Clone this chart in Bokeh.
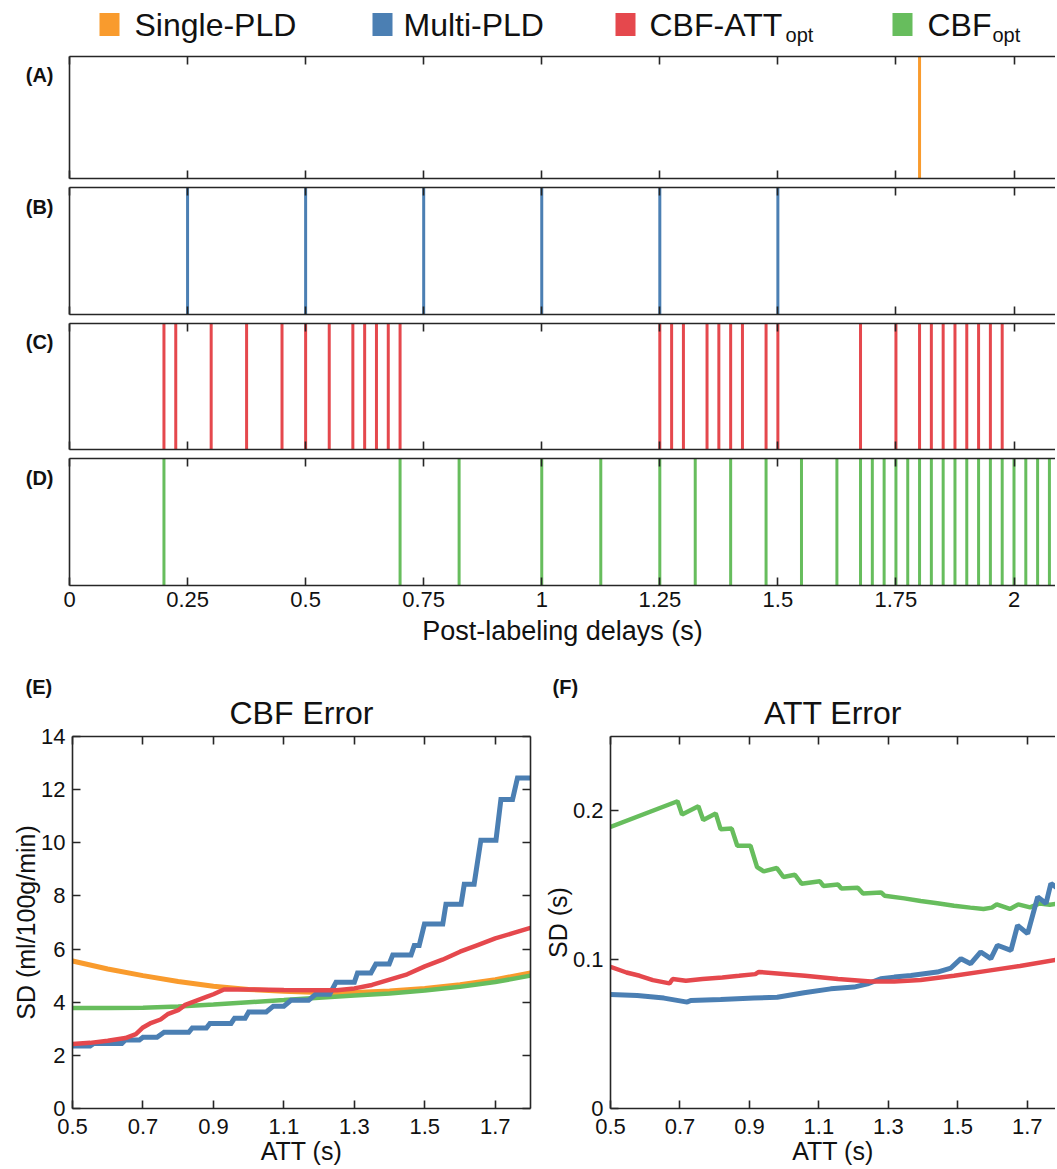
from bokeh.plotting import figure
from bokeh.models import Range1d, FixedTicker, LinearAxis, Title
from bokeh.layouts import column, row
from bokeh.embed import file_html
from bokeh.resources import INLINE
from bokeh.core.properties import value

FONT = "Liberation Sans"
AX = "#262626"
TXT = "#111111"
C_SINGLE = "#F99B2D"
C_MULTI = "#4B7FB3"
C_CBFATT = "#E5484D"
C_CBF = "#67BD5D"

# ---------------- data ----------------
legend_names = ["Single-PLD", "Multi-PLD", "CBF-ATT", "CBF"]
legend_subs = ["", "", "opt", "opt"]

single_pld = [1.8]
multi_pld = [0.25, 0.5, 0.75, 1.0, 1.25, 1.5]
cbf_att_opt_pld = [0.2, 0.225, 0.3, 0.375, 0.45, 0.5, 0.55, 0.6, 0.625, 0.65, 0.675, 0.7,
                   1.25, 1.275, 1.3, 1.35, 1.375, 1.4, 1.425, 1.475, 1.5, 1.675, 1.75,
                   1.8, 1.825, 1.85, 1.875, 1.9, 1.925, 1.95, 1.975]
cbf_opt_pld = [0.2, 0.7, 0.825, 1.0, 1.125, 1.25, 1.325, 1.4, 1.475, 1.55, 1.625, 1.675,
               1.7, 1.725, 1.75, 1.775, 1.8, 1.825, 1.85, 1.875, 1.9, 1.925, 1.95, 1.975,
               2.0, 2.025, 2.05, 2.075]
pld_ticks = [0, 0.25, 0.5, 0.75, 1.0, 1.25, 1.5, 1.75, 2.0]
pld_tick_labels = ["0", "0.25", "0.5", "0.75", "1", "1.25", "1.5", "1.75", "2"]
panel_letters = ["(A)", "(B)", "(C)", "(D)"]

att_ticks = [0.5, 0.7, 0.9, 1.1, 1.3, 1.5, 1.7]
att_tick_labels = ["0.5", "0.7", "0.9", "1.1", "1.3", "1.5", "1.7"]
cbf_sd_ticks = [0, 2, 4, 6, 8, 10, 12, 14]
att_sd_ticks = [0, 0.1, 0.2]
att_sd_tick_labels = ["0", "0.1", "0.2"]

# CBF error (E)
e_single_att = [0.5, 0.6, 0.7, 0.8, 0.9, 1.0, 1.1, 1.2, 1.3, 1.4, 1.5, 1.6, 1.7, 1.8]
e_single_sd = [5.55, 5.25, 5.0, 4.78, 4.6, 4.48, 4.41, 4.37, 4.37, 4.42, 4.52, 4.66, 4.85, 5.1]
e_cbf_att = [0.5, 0.6, 0.7, 0.8, 0.9, 1.0, 1.1, 1.2, 1.3, 1.4, 1.5, 1.6, 1.7, 1.8]
e_cbf_sd = [3.78, 3.78, 3.79, 3.84, 3.91, 4.0, 4.08, 4.17, 4.25, 4.33, 4.44, 4.58, 4.76, 5.0]
e_cbfatt_att = [0.5, 0.55, 0.6, 0.65, 0.68, 0.7, 0.72, 0.75, 0.77, 0.8, 0.82, 0.85, 0.88,
                0.9, 0.93, 1.0, 1.1, 1.2, 1.25, 1.3, 1.35, 1.4, 1.45, 1.5, 1.55, 1.6,
                1.65, 1.7, 1.75, 1.8]
e_cbfatt_sd = [2.43, 2.47, 2.55, 2.65, 2.8, 3.05, 3.2, 3.35, 3.55, 3.7, 3.9, 4.05, 4.2,
               4.3, 4.48, 4.48, 4.46, 4.45, 4.45, 4.52, 4.65, 4.85, 5.05, 5.35, 5.6, 5.9,
               6.15, 6.4, 6.6, 6.8]
e_multi_att = [0.5, 0.55, 0.56, 0.64, 0.65, 0.69, 0.70, 0.74, 0.76, 0.83, 0.84, 0.88, 0.89,
               0.95, 0.96, 0.99, 1.0, 1.05, 1.07, 1.1, 1.12, 1.17, 1.19, 1.23, 1.248, 1.30,
               1.309, 1.347, 1.361, 1.399, 1.409, 1.461, 1.47, 1.484, 1.499, 1.551, 1.56,
               1.603, 1.612, 1.64, 1.659, 1.702, 1.716, 1.749, 1.763, 1.8]
e_multi_sd = [2.35, 2.35, 2.45, 2.45, 2.58, 2.58, 2.68, 2.68, 2.87, 2.87, 3.03, 3.03, 3.2,
              3.2, 3.4, 3.4, 3.63, 3.63, 3.85, 3.85, 4.07, 4.07, 4.3, 4.3, 4.75, 4.75, 5.1,
              5.1, 5.44, 5.44, 5.78, 5.78, 6.13, 6.13, 6.94, 6.94, 7.69, 7.69, 8.44, 8.44,
              10.1, 10.1, 11.63, 11.63, 12.44, 12.44]

# ATT error (F)
f_cbf_att = [0.5, 0.693, 0.706, 0.753, 0.767, 0.803, 0.817, 0.849, 0.865, 0.903, 0.922,
             0.941, 0.979, 0.998, 1.031, 1.05, 1.103, 1.113, 1.155, 1.165, 1.212, 1.227,
             1.279, 1.289, 1.346, 1.393, 1.441, 1.489, 1.536, 1.574, 1.598, 1.612, 1.65,
             1.674, 1.708, 1.736, 1.765, 1.794]
f_cbf_sd = [0.1892, 0.2065, 0.1976, 0.2032, 0.1939, 0.1983, 0.1877, 0.1881, 0.1766, 0.1766,
            0.1622, 0.1594, 0.1616, 0.1556, 0.1571, 0.1511, 0.1527, 0.1496, 0.1505, 0.1478,
            0.1483, 0.1445, 0.1452, 0.143, 0.1412, 0.1394, 0.1379, 0.1363, 0.135, 0.1341,
            0.135, 0.1372, 0.1341, 0.1372, 0.1352, 0.1378, 0.137, 0.1378]
f_cbfatt_att = [0.5, 0.546, 0.584, 0.622, 0.67, 0.679, 0.717, 0.765, 0.822, 0.87, 0.917,
                0.927, 1.06, 1.155, 1.25, 1.317, 1.393, 1.489, 1.584, 1.679, 1.794]
f_cbfatt_sd = [0.0952, 0.0914, 0.0892, 0.0863, 0.0841, 0.087, 0.0859, 0.087, 0.0881, 0.0892,
               0.0903, 0.0918, 0.0892, 0.087, 0.0854, 0.0854, 0.0863, 0.0892, 0.0925, 0.0958,
               0.1003]
f_multi_att = [0.5, 0.577, 0.654, 0.721, 0.731, 0.817, 0.913, 0.98, 1.057, 1.134, 1.201,
               1.24, 1.278, 1.317, 1.365, 1.441, 1.48, 1.509, 1.537, 1.566, 1.595, 1.614,
               1.653, 1.672, 1.701, 1.73, 1.754, 1.768, 1.795]
f_multi_sd = [0.0766, 0.076, 0.0742, 0.0715, 0.0726, 0.0733, 0.0742, 0.0748, 0.0778, 0.0804,
              0.0816, 0.0838, 0.0872, 0.0883, 0.0894, 0.0917, 0.0944, 0.1007, 0.0973, 0.1052,
              0.1007, 0.1097, 0.1063, 0.1231, 0.1175, 0.1422, 0.1378, 0.1512, 0.1467]

# ---------------- layout constants (pixels) ----------------
PAGE_W = 1055
PLD_LEFT = 69
PLD_SCALE = 472.25          # px per second on the PLD panels
ATT_SCALE = 352.0           # px per second on E / F


def base_axis(ax, ticks, overrides=None, labels=True, size="22px", tick_len=8):
    ax.ticker = FixedTicker(ticks=ticks)
    if overrides:
        ax.major_label_overrides = overrides
    ax.axis_line_color = AX
    ax.axis_line_width = 1.6
    ax.major_tick_line_color = AX
    ax.major_tick_line_width = 1.6
    ax.major_tick_in = tick_len
    ax.major_tick_out = 0
    ax.minor_tick_line_color = None
    ax.major_label_text_font = FONT
    if labels:
        ax.major_label_text_font_size = size
        ax.major_label_text_color = TXT
    else:
        ax.major_label_text_font_size = "1px"
        ax.major_label_text_color = None
        ax.major_label_standoff = 0
    ax.axis_label_text_font = FONT
    ax.axis_label_text_font_style = "normal"
    ax.axis_label_text_color = TXT


# ---------------- legend row (page y 0..48) ----------------
LH = 48
leg = figure(width=PAGE_W, height=LH, x_range=Range1d(PLD_LEFT, PAGE_W), y_range=Range1d(0, LH),
             output_backend="svg", toolbar_location=None, min_border_left=PLD_LEFT,
             min_border_right=0, min_border_top=0, min_border_bottom=0)
leg.axis.visible = False
leg.grid.visible = False
leg.outline_line_color = None
sq_x = [109, 382, 625, 902]
txt_x = [134, 403, 649, 927]
colors = [C_SINGLE, C_MULTI, C_CBFATT, C_CBF]
main_w = [5057, 4389, 4222, 2000]   # advance widths (1/1000 em)
FS = 32
leg.rect(x=sq_x, y=LH - 24, width=20, height=23, fill_color=colors, line_color=None)
leg.text(x=txt_x, y=LH - 24, text=legend_names, text_font=value(FONT), text_font_size=f"{FS}px",
         text_baseline="middle", text_align="left", text_color=TXT)
sub_x = [txt_x[i] + main_w[i] * FS / 1000.0 + 1 for i in (2, 3)]
leg.text(x=sub_x, y=LH - 34, text=[legend_subs[2], legend_subs[3]], text_font=value(FONT),
         text_font_size="20px", text_baseline="middle", text_align="left", text_color=TXT)

# ---------------- PLD panels ----------------
X_END = (PAGE_W - PLD_LEFT) / PLD_SCALE
panel_specs = [
    (single_pld, C_SINGLE, 8, 122, 4),
    (multi_pld, C_MULTI, 5, 127, 4),
    (cbf_att_opt_pld, C_CBFATT, 5, 126, 4),
    (cbf_opt_pld, C_CBF, 5, 127, 70),
]
overrides = {t: l for t, l in zip(pld_ticks, pld_tick_labels)}
panels = []
for i, (vals, col, bt, fh, bb) in enumerate(panel_specs):
    last = i == 3
    p = figure(width=PAGE_W, height=bt + fh + bb, x_range=Range1d(0, X_END), y_range=Range1d(0, 1),
               output_backend="svg", toolbar_location=None, min_border_left=PLD_LEFT,
               min_border_right=0, min_border_top=bt, min_border_bottom=bb)
    p.outline_line_color = None
    p.grid.visible = False
    p.segment(x0=vals, y0=0, x1=vals, y1=1, line_color=col, line_width=3)
    base_axis(p.xaxis[0], pld_ticks, overrides, labels=last, size="22px")
    if last:
        p.xaxis[0].major_label_standoff = 6
        p.xaxis[0].axis_label = "Post-labeling delays (s)"
        p.xaxis[0].axis_label_text_font_size = "27px"
        p.xaxis[0].axis_label_standoff = 6
    top = LinearAxis()
    base_axis(top, pld_ticks, labels=False)
    p.add_layout(top, "above")
    ya = p.yaxis[0]
    base_axis(ya, [0.85], {0.85: panel_letters[i]}, labels=True, size="20px", tick_len=0)
    ya.major_label_text_font_style = "bold"
    ya.major_label_standoff = 16
    panels.append(p)

# ---------------- E / F (page y 655..1167) ----------------
EF_H = 512
E_TOP, E_BOT = 81, 59
E_LEFT = 72
E_W = 540
F_LEFT = 64
F_W = PAGE_W - E_W

att_over = {t: l for t, l in zip(att_ticks, att_tick_labels)}


def err_fig(width, left, right, x_end, y_end, yticks, yover, ylabel, title, letter, letter_off):
    p = figure(width=width, height=EF_H, x_range=Range1d(0.5, x_end), y_range=Range1d(0, y_end),
               output_backend="svg", toolbar_location=None, min_border_left=left,
               min_border_right=right, min_border_top=E_TOP, min_border_bottom=E_BOT)
    p.title = None
    p.outline_line_color = None
    p.grid.visible = False
    base_axis(p.xaxis[0], att_ticks, att_over, size="22px")
    p.xaxis[0].major_label_standoff = 10
    p.xaxis[0].axis_label = "ATT (s)"
    p.xaxis[0].axis_label_text_font_size = "25px"
    p.xaxis[0].axis_label_standoff = 0
    base_axis(p.yaxis[0], yticks, yover, size="22px")
    p.yaxis[0].major_label_standoff = 7
    p.yaxis[0].axis_label = ylabel
    p.yaxis[0].axis_label_text_font_size = "25px"
    p.yaxis[0].axis_label_standoff = -2
    ax = LinearAxis()
    base_axis(ax, att_ticks, labels=False)
    p.add_layout(ax, "above")
    p.add_layout(Title(text=title, align="center", text_font=FONT, text_font_size="32px",
                       text_font_style="normal", text_color=TXT, standoff=12), "above")
    p.add_layout(Title(text=letter, align="left", offset=letter_off, text_font=FONT,
                       text_font_size="20px", text_font_style="bold", text_color=TXT,
                       standoff=-22), "above")
    return p


pe = err_fig(E_W, E_LEFT, 10, 1.8, 14, cbf_sd_ticks, None, "SD (ml/100g/min)", "CBF Error",
             "(E)", -47)
rax = LinearAxis()
base_axis(rax, cbf_sd_ticks, labels=False)
pe.add_layout(rax, "right")
pe.line(e_single_att, e_single_sd, line_color=C_SINGLE, line_width=5)
pe.line(e_cbf_att, e_cbf_sd, line_color=C_CBF, line_width=4.5)
pe.line(e_multi_att, e_multi_sd, line_color=C_MULTI, line_width=5, line_join="miter")
pe.line(e_cbfatt_att, e_cbfatt_sd, line_color=C_CBFATT, line_width=4.5)

pf = err_fig(F_W, F_LEFT, 0, 0.5 + (F_W - F_LEFT) / ATT_SCALE, 0.25, att_sd_ticks,
             {t: l for t, l in zip(att_sd_ticks, att_sd_tick_labels)}, "SD (s)", "ATT Error",
             "(F)", -58)
pf.line(f_cbf_att, f_cbf_sd, line_color=C_CBF, line_width=4.5)
pf.line(f_multi_att, f_multi_sd, line_color=C_MULTI, line_width=5)
pf.line(f_cbfatt_att, f_cbfatt_sd, line_color=C_CBFATT, line_width=4.5)

layout = column(leg, *panels, row(pe, pf, spacing=0), spacing=0)
open("out.html", "w").write(file_html(layout, INLINE))
